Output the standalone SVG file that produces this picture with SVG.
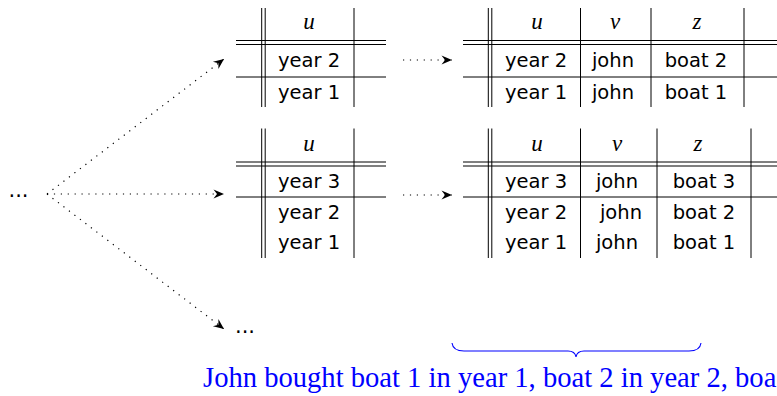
<svg xmlns="http://www.w3.org/2000/svg" width="777" height="396" viewBox="0 0 777 396">
<defs>
<style>
.rule{stroke:#000;stroke-width:1;fill:none}
.cell{font-family:"DejaVu Sans","Liberation Sans",sans-serif;font-size:19.5px;fill:#000;text-anchor:middle}
.hdr{font-family:"Liberation Serif","DejaVu Serif",serif;font-style:italic;font-size:23px;fill:#000;text-anchor:middle}
.dots{font-family:"DejaVu Sans","Liberation Sans",sans-serif;font-size:21px;fill:#000}
.conn{stroke:#000;stroke-width:1.2;stroke-dasharray:1.2 5.7;fill:none;marker-end:url(#arr)}
.cap{font-family:"Liberation Serif","Times New Roman",serif;font-size:28.6px;fill:#0000ff}
</style>
<marker id="arr" viewBox="-12 -6 13 12" refX="0" refY="0" markerWidth="13" markerHeight="12" orient="auto" markerUnits="userSpaceOnUse">
<path d="M0,0 L-10.5,-4.5 L-7,0 L-10.5,4.5 Z" fill="#000"/>
</marker>
</defs>

<g id="dots-left"><text class="dots" x="8.5" y="197">...</text></g>
<g id="dots-bottom"><text class="dots" x="235" y="333">...</text></g>

<g id="table-top-left">
<path class="rule" d="M261.7 8V107M265.2 8V107M354 8V107M236 40.5H386M236 44.5H386M236 77H386"/>
<text class="hdr" x="309" y="29">u</text>
<text class="cell" x="309" y="66.5">year 2</text>
<text class="cell" x="309" y="99">year 1</text>
</g>

<g id="table-top-right">
<path class="rule" d="M488.3 8V107M491.8 8V107M580.5 8V107M651 8V107M744 8V107M463 40.5H777M463 44.5H777M463 77H777"/>
<text class="hdr" x="537" y="29">u</text>
<text class="hdr" x="615" y="29">v</text>
<text class="hdr" x="697" y="29">z</text>
<text class="cell" x="536" y="66.5">year 2</text>
<text class="cell" x="613" y="66.5">john</text>
<text class="cell" x="696" y="66.5">boat 2</text>
<text class="cell" x="536" y="99">year 1</text>
<text class="cell" x="613" y="99">john</text>
<text class="cell" x="696" y="99">boat 1</text>
</g>

<g id="table-mid-left">
<path class="rule" d="M261.7 128.5V258M265.2 128.5V258M354 128.5V258M236 162H386M236 166H386M236 197H386"/>
<text class="hdr" x="309" y="151">u</text>
<text class="cell" x="309" y="188">year 3</text>
<text class="cell" x="309" y="219">year 2</text>
<text class="cell" x="309" y="249">year 1</text>
</g>

<g id="table-mid-right">
<path class="rule" d="M488.3 128.5V258M491.8 128.5V258M580.5 128.5V258M657 128.5V258M751 128.5V258M463 162H777M463 166H777M463 197H777"/>
<text class="hdr" x="537" y="151">u</text>
<text class="hdr" x="617" y="151">v</text>
<text class="hdr" x="698" y="151">z</text>
<text class="cell" x="536" y="188">year 3</text>
<text class="cell" x="617" y="188">john</text>
<text class="cell" x="704" y="188">boat 3</text>
<text class="cell" x="536" y="219">year 2</text>
<text class="cell" x="621" y="219">john</text>
<text class="cell" x="704" y="219">boat 2</text>
<text class="cell" x="536" y="249">year 1</text>
<text class="cell" x="617" y="249">john</text>
<text class="cell" x="704" y="249">boat 1</text>
</g>

<g id="caption">
<path d="M452 343 Q453 351 464 351 H568 Q575 351 576 357 Q577 351 584 351 H689 Q700 351 701 343" fill="none" stroke="#0000ff" stroke-width="1.1"/>
<text class="cap" x="203" y="387">John bought boat 1 in year 1, boat 2 in year 2, boa</text>
</g>

<g id="connectors">
<path class="conn" d="M47 194 L224 59"/>
<path class="conn" d="M47 194 L224 194"/>
<path class="conn" d="M47 194 L224 329"/>
<path class="conn" d="M403 60 L452 60"/>
<path class="conn" d="M403 195 L452 195"/>
</g>
</svg>
